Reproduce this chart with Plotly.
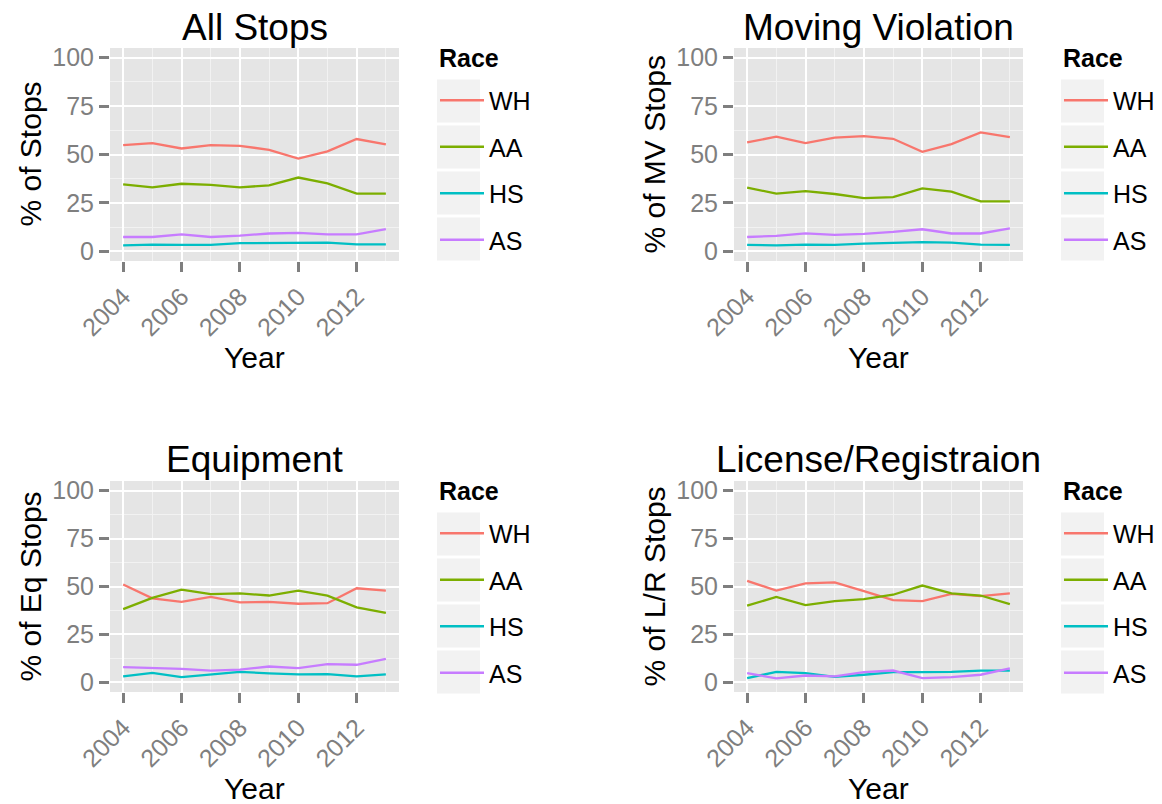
import plotly.graph_objects as go

years = list(range(2004, 2014))
races = ["WH", "AA", "HS", "AS"]
race_colors = ["#F8766D", "#7CAE00", "#00BFC4", "#C77CFF"]

panel_titles = ["All Stops", "Moving Violation", "Equipment", "License/Registraion"]
panel_ytitles = ["% of Stops", "% of MV Stops", "% of Eq Stops", "% of L/R Stops"]
legend_title = "Race"
x_title = "Year"

all_wh = [54.8, 55.9, 53.1, 54.8, 54.5, 52.4, 47.9, 51.6, 58.0, 55.2]
all_aa = [34.6, 33.0, 34.9, 34.3, 33.0, 34.1, 38.1, 35.1, 29.8, 29.8]
all_hs = [3.1, 3.5, 3.3, 3.3, 4.2, 4.3, 4.5, 4.5, 3.6, 3.6]
all_as = [7.4, 7.4, 8.7, 7.4, 8.1, 9.2, 9.5, 8.7, 8.8, 11.4]

mv_wh = [56.2, 59.2, 55.9, 58.7, 59.5, 58.1, 51.4, 55.4, 61.4, 59.0]
mv_aa = [32.9, 29.8, 31.1, 29.6, 27.5, 28.0, 32.5, 30.8, 25.8, 25.8]
mv_hs = [3.3, 3.1, 3.5, 3.3, 4.0, 4.2, 4.7, 4.5, 3.5, 3.3]
mv_as = [7.4, 8.0, 9.3, 8.5, 9.0, 10.0, 11.4, 9.2, 9.2, 11.8]

eq_wh = [51.0, 43.8, 42.0, 44.6, 41.7, 42.0, 41.0, 41.3, 49.1, 47.8]
eq_aa = [38.2, 44.1, 48.4, 46.0, 46.4, 45.3, 47.8, 45.2, 39.1, 36.3]
eq_hs = [3.1, 5.0, 2.8, 4.0, 5.5, 4.7, 4.2, 4.3, 3.1, 4.2]
eq_as = [8.0, 7.4, 7.1, 6.1, 6.7, 8.3, 7.4, 9.5, 9.2, 12.3]

lr_wh = [52.9, 47.9, 51.6, 52.1, 47.6, 42.9, 42.4, 46.2, 45.0, 46.4]
lr_aa = [40.0, 44.6, 40.3, 42.4, 43.4, 45.7, 50.5, 46.4, 45.3, 40.8]
lr_hs = [2.2, 5.5, 4.8, 2.9, 4.0, 5.4, 5.4, 5.5, 6.1, 6.1]
lr_as = [4.8, 2.1, 3.6, 3.1, 5.4, 6.2, 2.2, 2.8, 4.0, 7.3]

panels = [
    [all_wh, all_aa, all_hs, all_as],
    [mv_wh, mv_aa, mv_hs, mv_as],
    [eq_wh, eq_aa, eq_hs, eq_as],
    [lr_wh, lr_aa, lr_hs, lr_as],
]

W, H = 1162, 804
FONT = "Liberation Sans, Arial, sans-serif"
GREY = "#7F7F7F"

# pixel boxes of the four plot panels: (x0, x1, ytop, ybottom)
boxes = [(110, 399, 48, 261), (734, 1023, 48, 261),
         (110, 399, 481, 692), (734, 1023, 481, 692)]

def px(x):
    return x / W

def py(y):
    return 1 - y / H

fig = go.Figure()
layout = dict(
    width=W, height=H,
    margin=dict(l=0, r=0, t=0, b=0, autoexpand=False),
    paper_bgcolor="white", plot_bgcolor="#E5E5E5",
    font=dict(family=FONT, color="black"),
    showlegend=True,
)
annotations = []
shapes = []

for i, (vals, box) in enumerate(zip(panels, boxes)):
    x0, x1, yt, yb = box
    sfx = "" if i == 0 else str(i + 1)
    xa = "x" + sfx
    ya = "y" + sfx
    leg = "legend" + sfx
    for r, c, v in zip(races, race_colors, vals):
        fig.add_trace(go.Scatter(
            x=years, y=v, mode="lines", name=r,
            line=dict(color=c, width=2.3),
            xaxis=xa, yaxis=ya, legend=leg,
            legendgroup=f"p{i}-{r}",
        ))
    layout["xaxis" + sfx] = dict(
        domain=[px(x0), px(x1)], anchor=ya,
        range=[2003.55, 2013.45],
        tickmode="linear", tick0=2004, dtick=2,
        ticks="outside", ticklen=10, tickwidth=2.5, tickcolor=GREY,
        tickangle=-45,
        tickfont=dict(size=25, color=GREY, family=FONT),
        showgrid=True, gridcolor="white", gridwidth=2,
        minor=dict(dtick=1, tick0=2004, showgrid=True, gridcolor="#F2F2F2", gridwidth=1),
        zeroline=False, showline=False,
    )
    layout["yaxis" + sfx] = dict(
        domain=[py(yb), py(yt)], anchor=xa,
        range=[-5, 105],
        tickmode="array", tickvals=[0, 25, 50, 75, 100],
        ticks="outside", ticklen=10, tickwidth=2.5, tickcolor=GREY,
        tickfont=dict(size=25, color=GREY, family=FONT),
        showgrid=True, gridcolor="white", gridwidth=2,
        minor=dict(tickvals=[12.5, 37.5, 62.5, 87.5], showgrid=True, gridcolor="#F2F2F2", gridwidth=1),
        zeroline=False, showline=False,
    )
    cx = (x0 + x1) / 2
    cy = (yt + yb) / 2
    annotations.append(dict(text=panel_titles[i], x=px(cx), y=py(yt - 21), xref="paper", yref="paper",
                            showarrow=False, xanchor="center", yanchor="middle",
                            font=dict(size=37, family=FONT, color="black")))
    annotations.append(dict(text=x_title, x=px(cx), y=py(yb + 96), xref="paper", yref="paper",
                            showarrow=False, xanchor="center", yanchor="middle",
                            font=dict(size=30, family=FONT, color="black")))
    annotations.append(dict(text=panel_ytitles[i], x=px(x0 - 80), y=py(cy), xref="paper", yref="paper",
                            showarrow=False, xanchor="center", yanchor="middle", textangle=-90,
                            font=dict(size=30, family=FONT, color="black")))
    # legend
    lx = x0 + 327
    annotations.append(dict(text="<b>" + legend_title + "</b>", x=px(lx), y=py(yt + 10), xref="paper", yref="paper",
                            showarrow=False, xanchor="left", yanchor="middle",
                            font=dict(size=25, family=FONT, color="black")))
    layout[leg] = dict(
        x=px(lx - 2), y=py(yt + 29.5), xanchor="left", yanchor="top",
        bgcolor="rgba(0,0,0,0)",
        font=dict(size=25, family=FONT, color="black"),
        tracegroupgap=11, itemwidth=44, itemclick=False, itemdoubleclick=False,
    )
    for k in range(4):
        kc = yt + 53 + 46 * k
        shapes.append(dict(type="rect", xref="paper", yref="paper", layer="below",
                           x0=px(lx), x1=px(lx + 43), y0=py(kc + 21.5), y1=py(kc - 21.5),
                           fillcolor="#F2F2F2", line=dict(width=0)))

layout["annotations"] = annotations
layout["shapes"] = shapes
fig.update_layout(**layout)
fig.write_html("out.html", config={"displayModeBar": False},
               post_script="document.body.style.margin='0';document.body.style.overflow='hidden';")
